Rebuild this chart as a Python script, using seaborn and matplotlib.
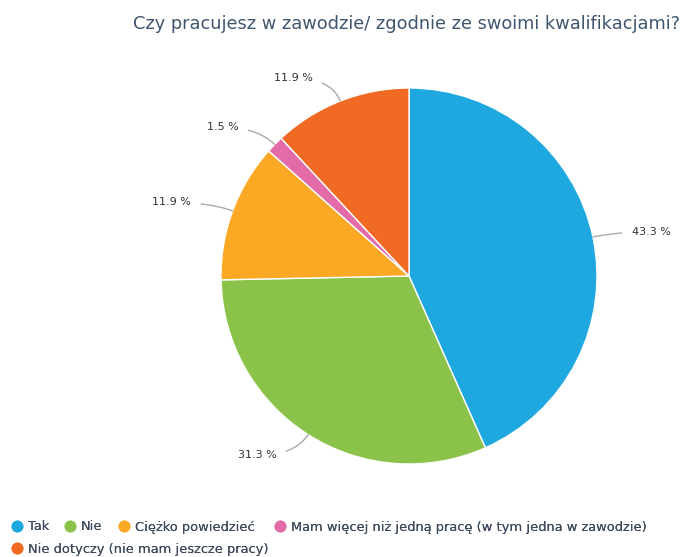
import numpy as np
import matplotlib
matplotlib.use("Agg")
import matplotlib.pyplot as plt
from matplotlib.lines import Line2D
import seaborn as sns

# data
categories = ["Tak", "Nie", "Ciężko powiedzieć",
              "Mam więcej niż jedną pracę (w tym jedna w zawodzie)",
              "Nie dotyczy (nie mam jeszcze pracy)"]
shares = [43.3, 31.3, 11.9, 1.5, 11.9]
colors = ["#1fa8e0", "#8bc34a", "#fba924", "#e36ba8", "#f06a24"]
title = "Czy pracujesz w zawodzie/ zgodnie ze swoimi kwalifikacjami?"

sns.set_style("white")
plt.rcParams["font.family"] = ["DejaVu Sans"]

W, H = 684, 557
fig = plt.figure(figsize=(W / 100, H / 100), dpi=100)

# pie centre (409, 276) px, radius 188 px
cx, cy, r = 409, 276, 188
ax = fig.add_axes([(cx - r) / W, (H - cy - r) / H, 2 * r / W, 2 * r / H])
wedges, _ = ax.pie(shares, colors=colors, startangle=90, counterclock=False,
                   radius=1, wedgeprops=dict(edgecolor="white", linewidth=1))
ax.set_xlim(-1, 1)
ax.set_ylim(-1, 1)
ax.axis("off")

for w, v in zip(wedges, shares):
    ang = (w.theta1 + w.theta2) / 2
    rad = np.deg2rad(ang)
    x, y = np.cos(rad), np.sin(rad)
    side = 1 if x > 0 else -1
    tx, ty = 1.13 * x + side * (0.08 if side > 0 else 0.1), 1.13 * y
    ax.annotate(f"{v} %", xy=(x, y), xytext=(tx, ty),
                ha="left" if side > 0 else "right", va="center",
                fontsize=8, color="#333333", annotation_clip=False,
                arrowprops=dict(arrowstyle="-", color="#aaaaaa", lw=1,
                                shrinkA=5, shrinkB=0,
                                connectionstyle=f"angle3,angleA=0,angleB={ang}"))

fig.text(0.994, 1 - 24 / H, title, ha="right", va="center",
         fontsize=12.8, color="#3f566e")

def handle(c):
    return Line2D([], [], marker="o", ls="", markersize=7.5,
                  markerfacecolor=c, markeredgecolor=c)

leg_kw = dict(loc="center left", frameon=False, fontsize=9.4,
              handletextpad=0.4, handlelength=0.9, borderpad=0,
              borderaxespad=0, columnspacing=1.15, labelcolor="#3d4a5c")

groups = [(range(0, 3), 11, 527), (range(3, 4), 274, 527), (range(4, 5), 11, 549)]
for idx, x0, y0 in groups:
    leg = fig.legend([handle(colors[i]) for i in idx], [categories[i] for i in idx],
                     bbox_to_anchor=(x0 / W, 1 - y0 / H), ncol=len(idx), **leg_kw)
    fig.add_artist(leg)

fig.savefig("out.png", dpi=100)
